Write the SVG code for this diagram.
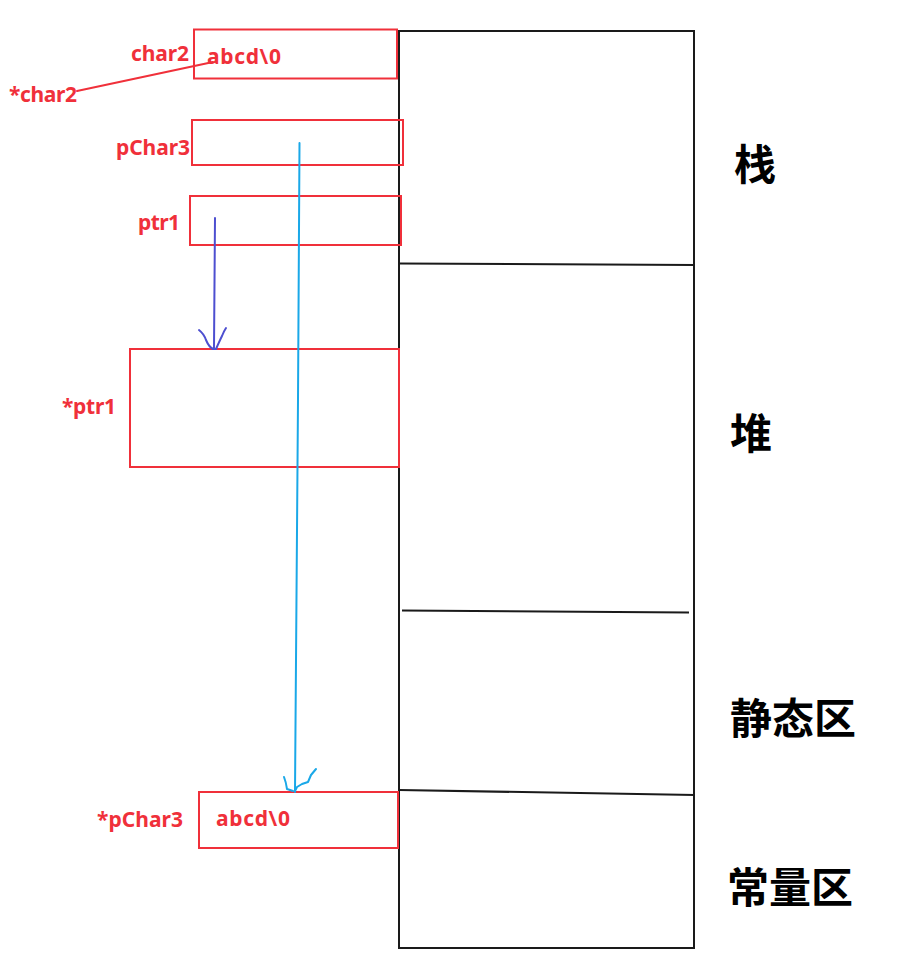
<svg xmlns="http://www.w3.org/2000/svg" width="897" height="960" viewBox="0 0 897 960">
<style>
.box{fill:none;stroke:#f0303a;stroke-width:2}
.mem{fill:none;stroke:#1a1a1a;stroke-width:2}
.lbl{font-family:"Noto Sans","Noto Sans CJK SC",sans-serif;font-weight:bold;font-size:21px;fill:#f0303a}
.zone{font-family:"Noto Sans CJK SC",sans-serif;font-weight:bold;font-size:42px;fill:#000}
.pb{fill:none;stroke:#4d4fd0;stroke-width:2;stroke-linecap:round;stroke-linejoin:round}
.cy{fill:none;stroke:#1aa8e8;stroke-width:2;stroke-linecap:round;stroke-linejoin:round}
.rl{fill:none;stroke:#f0303a;stroke-width:2;stroke-linecap:round}
</style>
<rect width="897" height="960" fill="#fff"/>
<g id="memory">
  <rect class="mem" x="399" y="31" width="295" height="917"/>
  <line class="mem" x1="399" y1="263.5" x2="695" y2="265"/>
  <line class="mem" x1="402" y1="610.5" x2="689" y2="612.5"/>
  <line class="mem" x1="399" y1="790" x2="695" y2="795"/>
</g>
<g id="zone-stack"><text class="zone" x="734" y="180">栈</text></g>
<g id="zone-heap"><text class="zone" x="730" y="449">堆</text></g>
<g id="zone-static"><text class="zone" x="730" y="734">静态区</text></g>
<g id="zone-const"><text class="zone" x="727" y="903">常量区</text></g>
<g id="char2">
  <rect class="box" x="194" y="29.5" width="203" height="49"/>
  <text class="lbl" x="131" y="61" textLength="58">char2</text>
  <text class="lbl" x="207" y="64" textLength="74">abcd\0</text>
</g>
<g id="star-char2"><text class="lbl" x="9" y="102" textLength="68">*char2</text></g>
<g id="pChar3">
  <rect class="box" x="192" y="120" width="211" height="45"/>
  <text class="lbl" x="116" y="155" textLength="74">pChar3</text>
</g>
<g id="ptr1">
  <rect class="box" x="190" y="196" width="211" height="49"/>
  <text class="lbl" x="138" y="230" textLength="42">ptr1</text>
</g>
<g id="star-ptr1">
  <rect class="box" x="130" y="349" width="269" height="118"/>
  <text class="lbl" x="62" y="414" textLength="54">*ptr1</text>
</g>
<g id="star-pChar3">
  <rect class="box" x="199" y="792" width="199" height="56"/>
  <text class="lbl" x="97" y="827" textLength="86">*pChar3</text>
  <text class="lbl" x="216" y="826" textLength="74">abcd\0</text>
</g>
<g id="connectors">
  <line class="rl" x1="77" y1="91" x2="213" y2="62"/>
  <path class="pb" d="M215 218 L214 348"/>
  <path class="pb" d="M199 330 Q204 334 206 340 Q209 347 213 349 L216 349 Q220 340 222 336 Q224 331 226 328"/>
  <path class="cy" d="M299.5 143 L298 400 L295 792"/>
  <path class="cy" d="M284 777 Q286 782 287 789 L293 791"/>
  <path class="cy" d="M316 769 L311 775 L308 782 L302 784 L297 787 L295 791"/>
</g>
</svg>
